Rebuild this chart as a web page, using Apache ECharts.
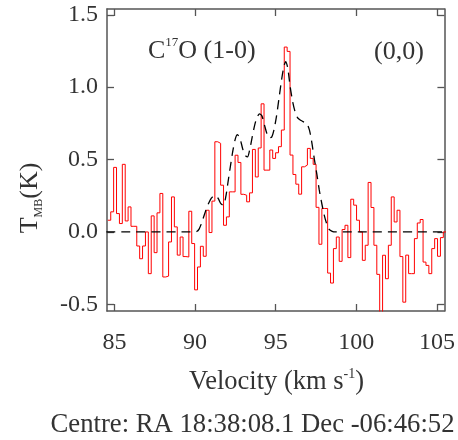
<!DOCTYPE html>
<html><head><meta charset="utf-8">
<script src="https://cdn.jsdelivr.net/npm/echarts@6/dist/echarts.min.js"></script>
<style>html,body{margin:0;padding:0;background:#fff}#c{width:458px;height:440px}</style>
</head><body><div id="c"></div>
<script>
// Spectral channels: left edge of first channel and channel width (km/s)
const channelStart = 84.593;
const channelWidth = 0.1793;
// Observed T_MB (K) per channel
const tmb = [
  0.081, 0.139, 0.446, 0.127, 0.058, 0.467, 0.076, 0.173, 0.039, 0.039,
  -0.097, -0.185, -0.097, 0.0, -0.288, 0.111, -0.143, 0.132, 0.266, -0.311,
  -0.305, -0.069, 0.242, 0.035, -0.16, -0.035, -0.17, -0.173, 0.143, -0.08,
  -0.40, -0.242, -0.099, -0.168, 0.150, -0.004, 0.213, 0.623, 0.612, 0.323,
  0.046, 0.104, 0.277, 0.277, 0.53, 0.48, 0.26, 0.254, 0.208, 0.27,
  0.57, 0.38, 0.58, 0.885, 0.427, 0.427, 0.566, 0.508, 0.547, 0.589,
  0.704, 1.277, 1.247, 0.531, 0.397, 0.33, 0.261, 0.45, 0.462, 0.577,
  0.508, 0.467, 0.17, -0.085, 0.162, 0.162, -0.284, -0.353, -0.115, -0.035,
  -0.203, 0.017, 0.046, -0.177, 0.226, 0.185, 0.081, 0.0, -0.196, -0.092,
  0.342, 0.169, -0.092, -0.293, -0.58, -0.161, -0.323, -0.092, 0.242, 0.069,
  0.150, -0.17, -0.485, -0.16, -0.288, -0.288, -0.046, 0.062, 0.086, -0.208,
  -0.231, -0.288, -0.115, -0.046, -0.168, -0.039, 0.0
];
// Model fit (dashed)
const fitVelocity = [84.5, 89.9, 90.1, 90.25, 90.4, 90.55, 90.7, 90.85, 91.0, 91.15, 91.3, 91.45, 91.6, 91.75, 91.9, 92.05, 92.2, 92.35, 92.5, 92.63, 92.8, 92.95, 93.1, 93.25, 93.4, 93.55, 93.7, 93.85, 94.0, 94.15, 94.3, 94.45, 94.6, 94.75, 94.9, 95.05, 95.2, 95.35, 95.5, 95.62, 95.75, 95.9, 96.05, 96.2, 96.35, 96.5, 96.65, 96.8, 96.95, 97.1, 97.25, 97.4, 97.55, 97.7, 97.85, 98.0, 98.15, 98.3, 98.5, 98.7, 105.6];
const fitTmb = [0, 0, 0.003, 0.02, 0.06, 0.11, 0.16, 0.2, 0.232, 0.248, 0.25, 0.228, 0.195, 0.185, 0.24, 0.35, 0.46, 0.565, 0.645, 0.672, 0.64, 0.575, 0.53, 0.518, 0.575, 0.66, 0.74, 0.795, 0.815, 0.8, 0.74, 0.68, 0.65, 0.655, 0.71, 0.8, 0.92, 1.04, 1.14, 1.177, 1.13, 1.0, 0.9, 0.83, 0.79, 0.775, 0.765, 0.755, 0.745, 0.70, 0.61, 0.50, 0.40, 0.29, 0.2, 0.12, 0.06, 0.02, 0.004, 0, 0];
const xTicks = [85, 90, 95, 100, 105];
const yTicks = [-0.5, 0, 0.5, 1.0, 1.5];

const spectrum = tmb.map((t, i) => [channelStart + i * channelWidth, t]);
spectrum.push([channelStart + tmb.length * channelWidth, tmb[tmb.length - 1]]);
const fit = fitVelocity.map((v, i) => [v, fitTmb[i]]);

const FONT = 'Liberation Serif';
const AX = '#555';
const TXT = '#333';
const line = { show: true, onZero: false, lineStyle: { color: AX, width: 1.5 } };
function xAx(pos, showLabel) {
  return {
    type: 'value', position: pos, min: 84.54, max: 105.46,
    axisLine: line, splitLine: { show: false },
    axisTick: { show: true, inside: true, length: 7, customValues: xTicks, lineStyle: { color: AX, width: 1.3 } },
    axisLabel: { show: showLabel, customValues: xTicks, margin: 20, fontFamily: FONT, fontSize: 24, color: TXT }
  };
}
function yAx(pos, showLabel) {
  return {
    type: 'value', position: pos, min: -0.546, max: 1.54,
    axisLine: line, splitLine: { show: false },
    axisTick: { show: true, inside: true, length: 7, customValues: yTicks, lineStyle: { color: AX, width: 1.3 } },
    axisLabel: { show: showLabel, customValues: yTicks, margin: 9, fontFamily: FONT, fontSize: 24, color: TXT,
      formatter: v => v.toFixed(1) }
  };
}

const chart = echarts.init(document.getElementById('c'), null, { renderer: 'canvas' });
chart.setOption({
  animation: false,
  backgroundColor: '#fff',
  grid: { left: 107, top: 9, width: 339, height: 302 },
  xAxis: [xAx('bottom', true), xAx('top', false)],
  yAxis: [yAx('left', true), yAx('right', false)],
  series: [
    { type: 'line', xAxisIndex: 0, yAxisIndex: 0, data: spectrum, step: 'end', symbol: 'none',
      lineStyle: { color: '#ff0000', width: 1 }, clip: true, z: 2 },
    { type: 'line', xAxisIndex: 0, yAxisIndex: 0, data: fit, smooth: 0.25, symbol: 'none',
      lineStyle: { color: '#000', width: 1.3, type: [9, 6] }, clip: true, z: 3 }
  ],
  graphic: [
    { type: 'text', x: 276.5, y: 382, style: { text: 'Velocity (km s{sup|-1})', align: 'center', verticalAlign: 'middle',
      fontFamily: FONT, fontSize: 26.5, fill: TXT, lineHeight: 30,
      rich: { sup: { fontFamily: FONT, fontSize: 14, fill: TXT, verticalAlign: 'top', lineHeight: 16 } } } },
    { type: 'text', x: 252.5, y: 425, style: { text: 'Centre: RA 18:38:08.1 Dec -06:46:52', align: 'center', verticalAlign: 'middle',
      fontFamily: FONT, fontSize: 26.7, fill: TXT } },
    { type: 'text', x: 30, y: 198, rotation: Math.PI / 2, style: { text: 'T{sub|MB}(K)', align: 'center', verticalAlign: 'middle',
      fontFamily: FONT, fontSize: 26, fill: TXT, lineHeight: 30,
      rich: { sub: { fontFamily: FONT, fontSize: 12, fill: TXT, verticalAlign: 'bottom', lineHeight: 14 } } } },
    { type: 'text', x: 148, y: 51, style: { text: 'C{sup|17}O (1-0)', align: 'left', verticalAlign: 'middle',
      fontFamily: FONT, fontSize: 26, fill: TXT, lineHeight: 30,
      rich: { sup: { fontFamily: FONT, fontSize: 13, fill: TXT, verticalAlign: 'top', lineHeight: 15 } } } },
    { type: 'text', x: 399, y: 52, style: { text: '(0,0)', align: 'center', verticalAlign: 'middle',
      fontFamily: FONT, fontSize: 26, fill: TXT } }
  ]
});
</script></body></html>
